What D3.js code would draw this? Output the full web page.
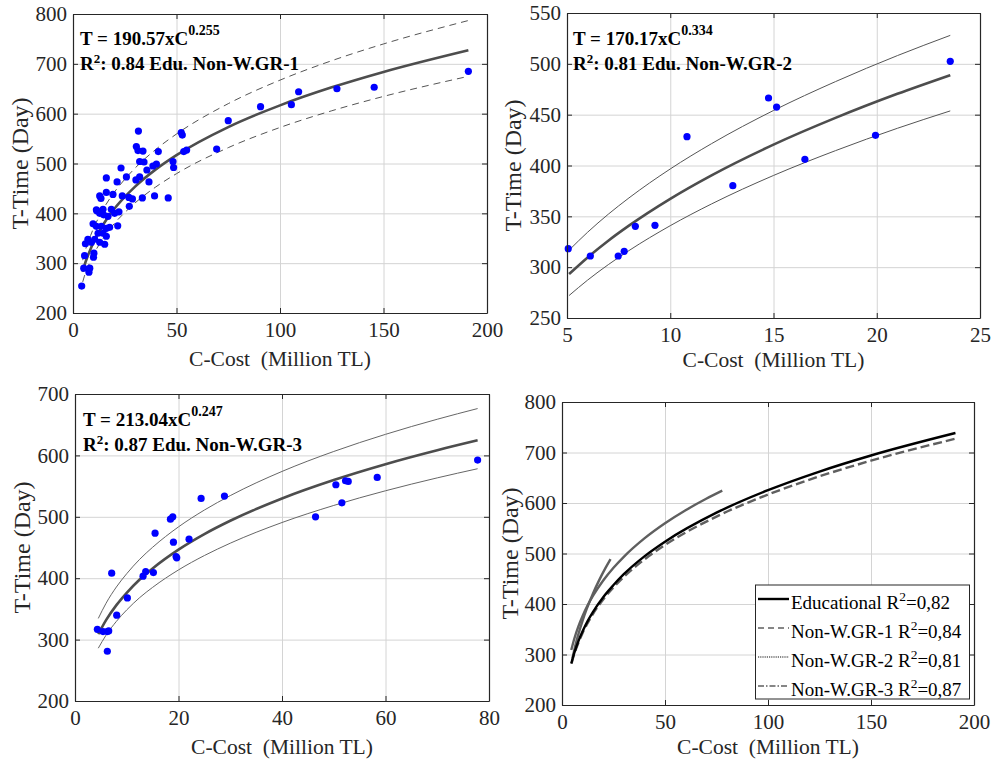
<!DOCTYPE html>
<html>
<head>
<meta charset="utf-8">
<script src="https://cdn.jsdelivr.net/npm/d3@7"></script>
<style>
  html, body { margin: 0; padding: 0; background: #ffffff; }
  svg { display: block; }
  svg text { font-family: "Liberation Serif", "DejaVu Serif", "Times New Roman", Times, serif; }
</style>
</head>
<body>
<svg id="chart" width="994" height="763"></svg>
<script>
// ---------------- DATA ----------------
// Panel 1: Edu. Non-W.GR-1 observations (C-Cost in million TL, T-Time in days)
const gr1Cost = [4.2, 5.2, 5.6, 6.0, 7.2, 7.7, 8.1, 8.9, 9.7, 9.9, 10.1, 10.5, 11.3, 11.3, 11.5, 12.1, 12.9, 12.9, 12.9, 13.5, 13.7, 14.5, 14.5, 14.8, 15.3, 16.1, 16.1, 16.1, 16.1, 16.9, 17.7, 18.5, 19.3, 20.1, 21.3, 21.6, 22.2, 23.2, 23.8, 25.8, 27.0, 27.2, 28.7, 30.4, 30.6, 31.4, 31.6, 32.2, 32.2, 33.5, 33.8, 34.3, 35.7, 36.7, 38.6, 39.4, 40.3, 41.2, 46.0, 48.3, 48.6, 52.3, 52.8, 53.5, 54.9, 69.4, 75.0, 90.6, 105.5, 109.0, 127.5, 145.5, 191.0];
const gr1Time = [254, 290, 315, 339, 348, 282, 290, 342, 379, 312, 320, 348, 407, 374, 405, 360, 435, 400, 342, 430, 374, 408, 360, 397, 338, 471, 442, 370, 354, 394, 372, 408, 438, 400, 463, 375, 403, 491, 435, 473, 432, 414, 429, 467, 534, 526, 565, 504, 473, 431, 525, 503, 487, 463, 495, 435, 499, 524, 431, 504, 492, 562, 557, 524, 527, 529, 586, 614, 618, 644, 650, 653, 685];
// Fitted curve T = 190.57 x C^0.255 and its bounds (read at sample costs)
const fit1Cost  = [4.7, 5.5, 7, 8.5, 10, 12.5, 15, 20, 25, 30, 40, 50, 75, 100, 125, 150, 191];
const fit1Time  = [282.8, 295.1, 313.0, 328.6, 342.8, 362.5, 380.1, 409.1, 432.8, 453.7, 488.2, 516.8, 573.1, 616.7, 652.8, 683.8, 727.3];
const fit1Upper = [306.0, 319.3, 338.7, 355.5, 370.9, 392.2, 411.3, 442.6, 468.3, 490.9, 528.2, 559.2, 620.1, 667.3, 706.3, 739.9, 786.9];
const fit1Lower = [262.4, 273.9, 290.5, 304.9, 318.1, 336.4, 352.7, 379.6, 401.6, 421.0, 453.0, 479.6, 531.8, 572.3, 605.8, 634.6, 674.9];

// Panel 2: Edu. Non-W.GR-2
const gr2Cost = [5.06, 6.13, 7.48, 7.77, 8.31, 9.26, 10.81, 13.03, 14.76, 15.15, 16.52, 19.94, 23.56];
const gr2Time = [318.2, 311.0, 311.0, 315.6, 340.2, 341.2, 428.4, 380.2, 466.4, 457.5, 406.1, 429.7, 502.5];
const fit2Cost  = [5.1, 6, 7, 8, 10, 12, 15, 18, 21, 23.56];
const fit2Time  = [293.2, 309.6, 326.0, 340.8, 367.2, 390.3, 420.5, 446.8, 470.5, 488.9];
const fit2Upper = [316.7, 334.4, 352.1, 368.1, 396.6, 421.5, 454.1, 482.5, 508.1, 528.0];
const fit2Lower = [272.1, 287.3, 302.5, 316.3, 340.8, 362.2, 390.2, 414.6, 436.6, 453.7];

// Panel 3: Edu. Non-W.GR-3
const gr3Cost = [4.32, 5.42, 6.25, 6.51, 6.25, 7.09, 8.06, 10.12, 13.15, 13.66, 15.15, 15.47, 18.44, 18.89, 19.02, 19.53, 19.66, 22.04, 24.37, 28.88, 46.48, 50.41, 51.57, 52.28, 52.80, 58.40, 77.80];
const gr3Time = [316.8, 313.0, 313.0, 314.1, 281.0, 408.2, 339.7, 367.9, 403.3, 410.9, 409.2, 473.4, 496.2, 500.0, 458.7, 435.3, 433.2, 463.6, 529.9, 533.7, 500.0, 552.2, 522.8, 558.7, 557.6, 564.1, 592.4];
const fit3Cost  = [4.5, 6, 8, 10, 12.5, 15, 20, 25, 30, 40, 50, 60, 70, 77.8];
const fit3Time  = [308.9, 331.7, 356.1, 376.2, 397.8, 415.9, 446.5, 471.8, 493.5, 529.9, 559.9, 585.7, 608.4, 624.5];
const fit3Upper = [334.5, 359.2, 385.7, 407.4, 430.8, 450.4, 483.6, 511.0, 534.5, 573.9, 606.4, 634.3, 658.9, 676.3];
const fit3Lower = [286.0, 307.2, 329.7, 348.4, 368.4, 385.1, 413.5, 436.9, 457.0, 490.7, 518.5, 542.4, 563.4, 578.3];

// Panel 4: comparison of fitted curves
const eduCost = [4.5, 5.5, 7, 8.5, 10, 12.5, 15, 20, 25, 30, 40, 50, 75, 100, 125, 150, 191];
const eduTime = [281.9, 297.0, 315.8, 332.0, 346.1, 366.7, 384.1, 413.5, 437.5, 459.0, 494.4, 523.4, 580.8, 625.4, 662.3, 694.1, 738.6];

const tickX1 = [0, 50, 100, 150, 200], tickY1 = [200, 300, 400, 500, 600, 700, 800];
const tickX2 = [5, 10, 15, 20, 25],    tickY2 = [250, 300, 350, 400, 450, 500, 550];
const tickX3 = [0, 20, 40, 60, 80],    tickY3 = [200, 300, 400, 500, 600, 700];
const tickX4 = [0, 50, 100, 150, 200], tickY4 = [200, 300, 400, 500, 600, 700, 800];

const legendLabels = [
  [{t: "Educational R"}, {t: "2", sup: true}, {t: "=0,82"}],
  [{t: "Non-W.GR-1 R"}, {t: "2", sup: true}, {t: "=0,84"}],
  [{t: "Non-W.GR-2 R"}, {t: "2", sup: true}, {t: "=0,81"}],
  [{t: "Non-W.GR-3 R"}, {t: "2", sup: true}, {t: "=0,87"}]
];

// ---------------- DRAWING ----------------
const FONT = "'Liberation Serif', 'DejaVu Serif', 'Times New Roman', Times, serif";
const svg = d3.select("#chart");
const zip = (a, b) => a.map((v, i) => [v, b[i]]);

function rich(sel, parts, supSize, shift) {
  parts.forEach((p, i) => {
    const ts = sel.append("tspan").text(p.t);
    if (p.sup) {
      ts.attr("font-size", supSize).attr("dy", -shift);
    } else if (i > 0 && parts[i - 1].sup) {
      ts.attr("dy", shift);
    }
  });
}

function panel(cfg) {
  const g = svg.append("g").attr("font-family", FONT);
  const x = d3.scaleLinear().domain(cfg.xd).range([cfg.l, cfg.r]);
  const y = d3.scaleLinear().domain(cfg.yd).range([cfg.b, cfg.t]);
  const w = cfg.r - cfg.l, h = cfg.b - cfg.t;

  // grid
  g.append("g").attr("transform", `translate(0,${cfg.b})`)
    .call(d3.axisBottom(x).tickValues(cfg.tx).tickSize(-h).tickFormat(""))
    .call(s => s.select(".domain").remove())
    .call(s => s.selectAll("line").attr("stroke", "#d4d4d4").attr("stroke-width", 1));
  g.append("g").attr("transform", `translate(${cfg.l},0)`)
    .call(d3.axisLeft(y).tickValues(cfg.ty).tickSize(-w).tickFormat(""))
    .call(s => s.select(".domain").remove())
    .call(s => s.selectAll("line").attr("stroke", "#d4d4d4").attr("stroke-width", 1));

  cfg.draw(g, x, y);

  // axes (MATLAB style: inward ticks on all sides)
  const styleAxis = s => {
    s.attr("font-family", FONT).attr("font-size", 21);
    s.select(".domain").attr("stroke", "#262626").attr("stroke-width", 1.2);
    s.selectAll(".tick line").attr("stroke", "#262626");
    s.selectAll("text").attr("fill", "#262626");
  };
  g.append("g").attr("transform", `translate(0,${cfg.b})`)
    .call(d3.axisBottom(x).tickValues(cfg.tx).tickSizeInner(-5).tickSizeOuter(0).tickPadding(9)).call(styleAxis);
  g.append("g").attr("transform", `translate(0,${cfg.t})`)
    .call(d3.axisTop(x).tickValues(cfg.tx).tickSizeInner(-5).tickSizeOuter(0).tickFormat("")).call(styleAxis);
  g.append("g").attr("transform", `translate(${cfg.l},0)`)
    .call(d3.axisLeft(y).tickValues(cfg.ty).tickSizeInner(-5).tickSizeOuter(0).tickPadding(6)).call(styleAxis);
  g.append("g").attr("transform", `translate(${cfg.r},0)`)
    .call(d3.axisRight(y).tickValues(cfg.ty).tickSizeInner(-5).tickSizeOuter(0).tickFormat("")).call(styleAxis);

  // axis labels
  g.append("text").attr("x", (cfg.l + cfg.r) / 2).attr("y", cfg.xlabY)
    .attr("text-anchor", "middle").attr("font-size", 21.5).attr("fill", "#262626")
    .style("white-space", "pre").text("C-Cost  (Million TL)");
  g.append("text").attr("transform", `translate(${cfg.ylabX},${(cfg.t + cfg.b) / 2}) rotate(-90)`)
    .attr("text-anchor", "middle").attr("font-size", 24).attr("fill", "#262626")
    .text("T-Time (Day)");
  return {x, y};
}

const fitLine = (x, y) => d3.line().x(d => x(d[0])).y(d => y(d[1])).curve(d3.curveMonotoneX);

function scatterPanel(g, x, y, cost, time, fc, ft, fu, fl, bandDash, bandColor) {
  const line = fitLine(x, y);
  [fu, fl].forEach(arr => {
    g.append("path").datum(zip(fc, arr)).attr("d", line)
      .attr("fill", "none").attr("stroke", bandColor).attr("stroke-width", 1)
      .attr("stroke-dasharray", bandDash);
  });
  g.append("path").datum(zip(fc, ft)).attr("d", line)
    .attr("fill", "none").attr("stroke", "#4d4d4d").attr("stroke-width", 2.6);
  g.append("g").selectAll("circle").data(zip(cost, time)).join("circle")
    .attr("cx", d => x(d[0])).attr("cy", d => y(d[1])).attr("r", 3.6).attr("fill", "#0000ff");
}

function annotate(g, ax, y1, y2, eq, exp, r2, name) {
  const t1 = g.append("text").attr("x", ax).attr("y", y1).attr("font-size", 19).attr("font-weight", "bold").attr("fill", "#000");
  rich(t1, [{t: eq}, {t: exp, sup: true}], 14, 10);
  const t2 = g.append("text").attr("x", ax).attr("y", y2).attr("font-size", 19).attr("font-weight", "bold").attr("fill", "#000");
  rich(t2, [{t: "R"}, {t: "2", sup: true}, {t: ": " + r2 + " Edu. " + name}], 13, 7.5);
}

// Panel 1
panel({l: 73, r: 487, t: 14, b: 313, xd: [0, 200], yd: [200, 800], tx: tickX1, ty: tickY1, xlabY: 366, ylabX: 28,
  draw: (g, x, y) => {
    scatterPanel(g, x, y, gr1Cost, gr1Time, fit1Cost, fit1Time, fit1Upper, fit1Lower, "7,5", "#555555");
    annotate(g, 80, 45, 70, "T = 190.57xC", "0.255", "0.84", "Non-W.GR-1");
  }});

// Panel 2
panel({l: 567, r: 980, t: 13, b: 318, xd: [5, 25], yd: [250, 550], tx: tickX2, ty: tickY2, xlabY: 367, ylabX: 521,
  draw: (g, x, y) => {
    scatterPanel(g, x, y, gr2Cost, gr2Time, fit2Cost, fit2Time, fit2Upper, fit2Lower, null, "#555555");
    annotate(g, 573, 45, 70, "T = 170.17xC", "0.334", "0.81", "Non-W.GR-2");
  }});

// Panel 3
panel({l: 75, r: 489, t: 394, b: 701, xd: [0, 80], yd: [200, 700], tx: tickX3, ty: tickY3, xlabY: 754, ylabX: 30,
  draw: (g, x, y) => {
    scatterPanel(g, x, y, gr3Cost, gr3Time, fit3Cost, fit3Time, fit3Upper, fit3Lower, null, "#666666");
    annotate(g, 83, 426, 451, "T = 213.04xC", "0.247", "0.87", "Non-W.GR-3");
  }});

// Panel 4
const series4 = [
  {c: eduCost,  t: eduTime,  stroke: "#000000", dash: null,  w: 2.4},
  {c: fit1Cost, t: fit1Time, stroke: "#5f5f5f", dash: "9,4", w: 2.4},
  {c: fit2Cost, t: fit2Time, stroke: "#5f5f5f", dash: null,  w: 2.4},
  {c: fit3Cost, t: fit3Time, stroke: "#5f5f5f", dash: null,  w: 2.4}
];
const legendDash = [null, "6,4", "1.2,1", "6,2,1.5,2"];
panel({l: 562, r: 974, t: 402, b: 705, xd: [0, 200], yd: [200, 800], tx: tickX4, ty: tickY4, xlabY: 754, ylabX: 518,
  draw: (g, x, y) => {
    const line = fitLine(x, y);
    [3, 2, 1, 0].forEach(i => {
      const s = series4[i];
      g.append("path").datum(zip(s.c, s.t)).attr("d", line)
        .attr("fill", "none").attr("stroke", s.stroke).attr("stroke-width", s.w)
        .attr("stroke-dasharray", s.dash);
    });
    // legend
    const lg = g.append("g");
    lg.append("rect").attr("x", 755.5).attr("y", 585).attr("width", 214).attr("height", 114)
      .attr("fill", "#fff").attr("stroke", "#262626").attr("stroke-width", 1);
    legendLabels.forEach((lab, i) => {
      const cy = 599 + i * 29;
      lg.append("line").attr("x1", 758).attr("x2", 789).attr("y1", cy).attr("y2", cy)
        .attr("stroke", i === 0 ? "#000" : "#5f5f5f").attr("stroke-width", i === 0 ? 2.4 : 1.4)
        .attr("stroke-dasharray", legendDash[i]);
      const tx = lg.append("text").attr("x", 791).attr("y", cy + 10).attr("font-size", 19).attr("fill", "#000");
      rich(tx, lab, 13.5, 8);
    });
  }});
</script>
</body>
</html>
